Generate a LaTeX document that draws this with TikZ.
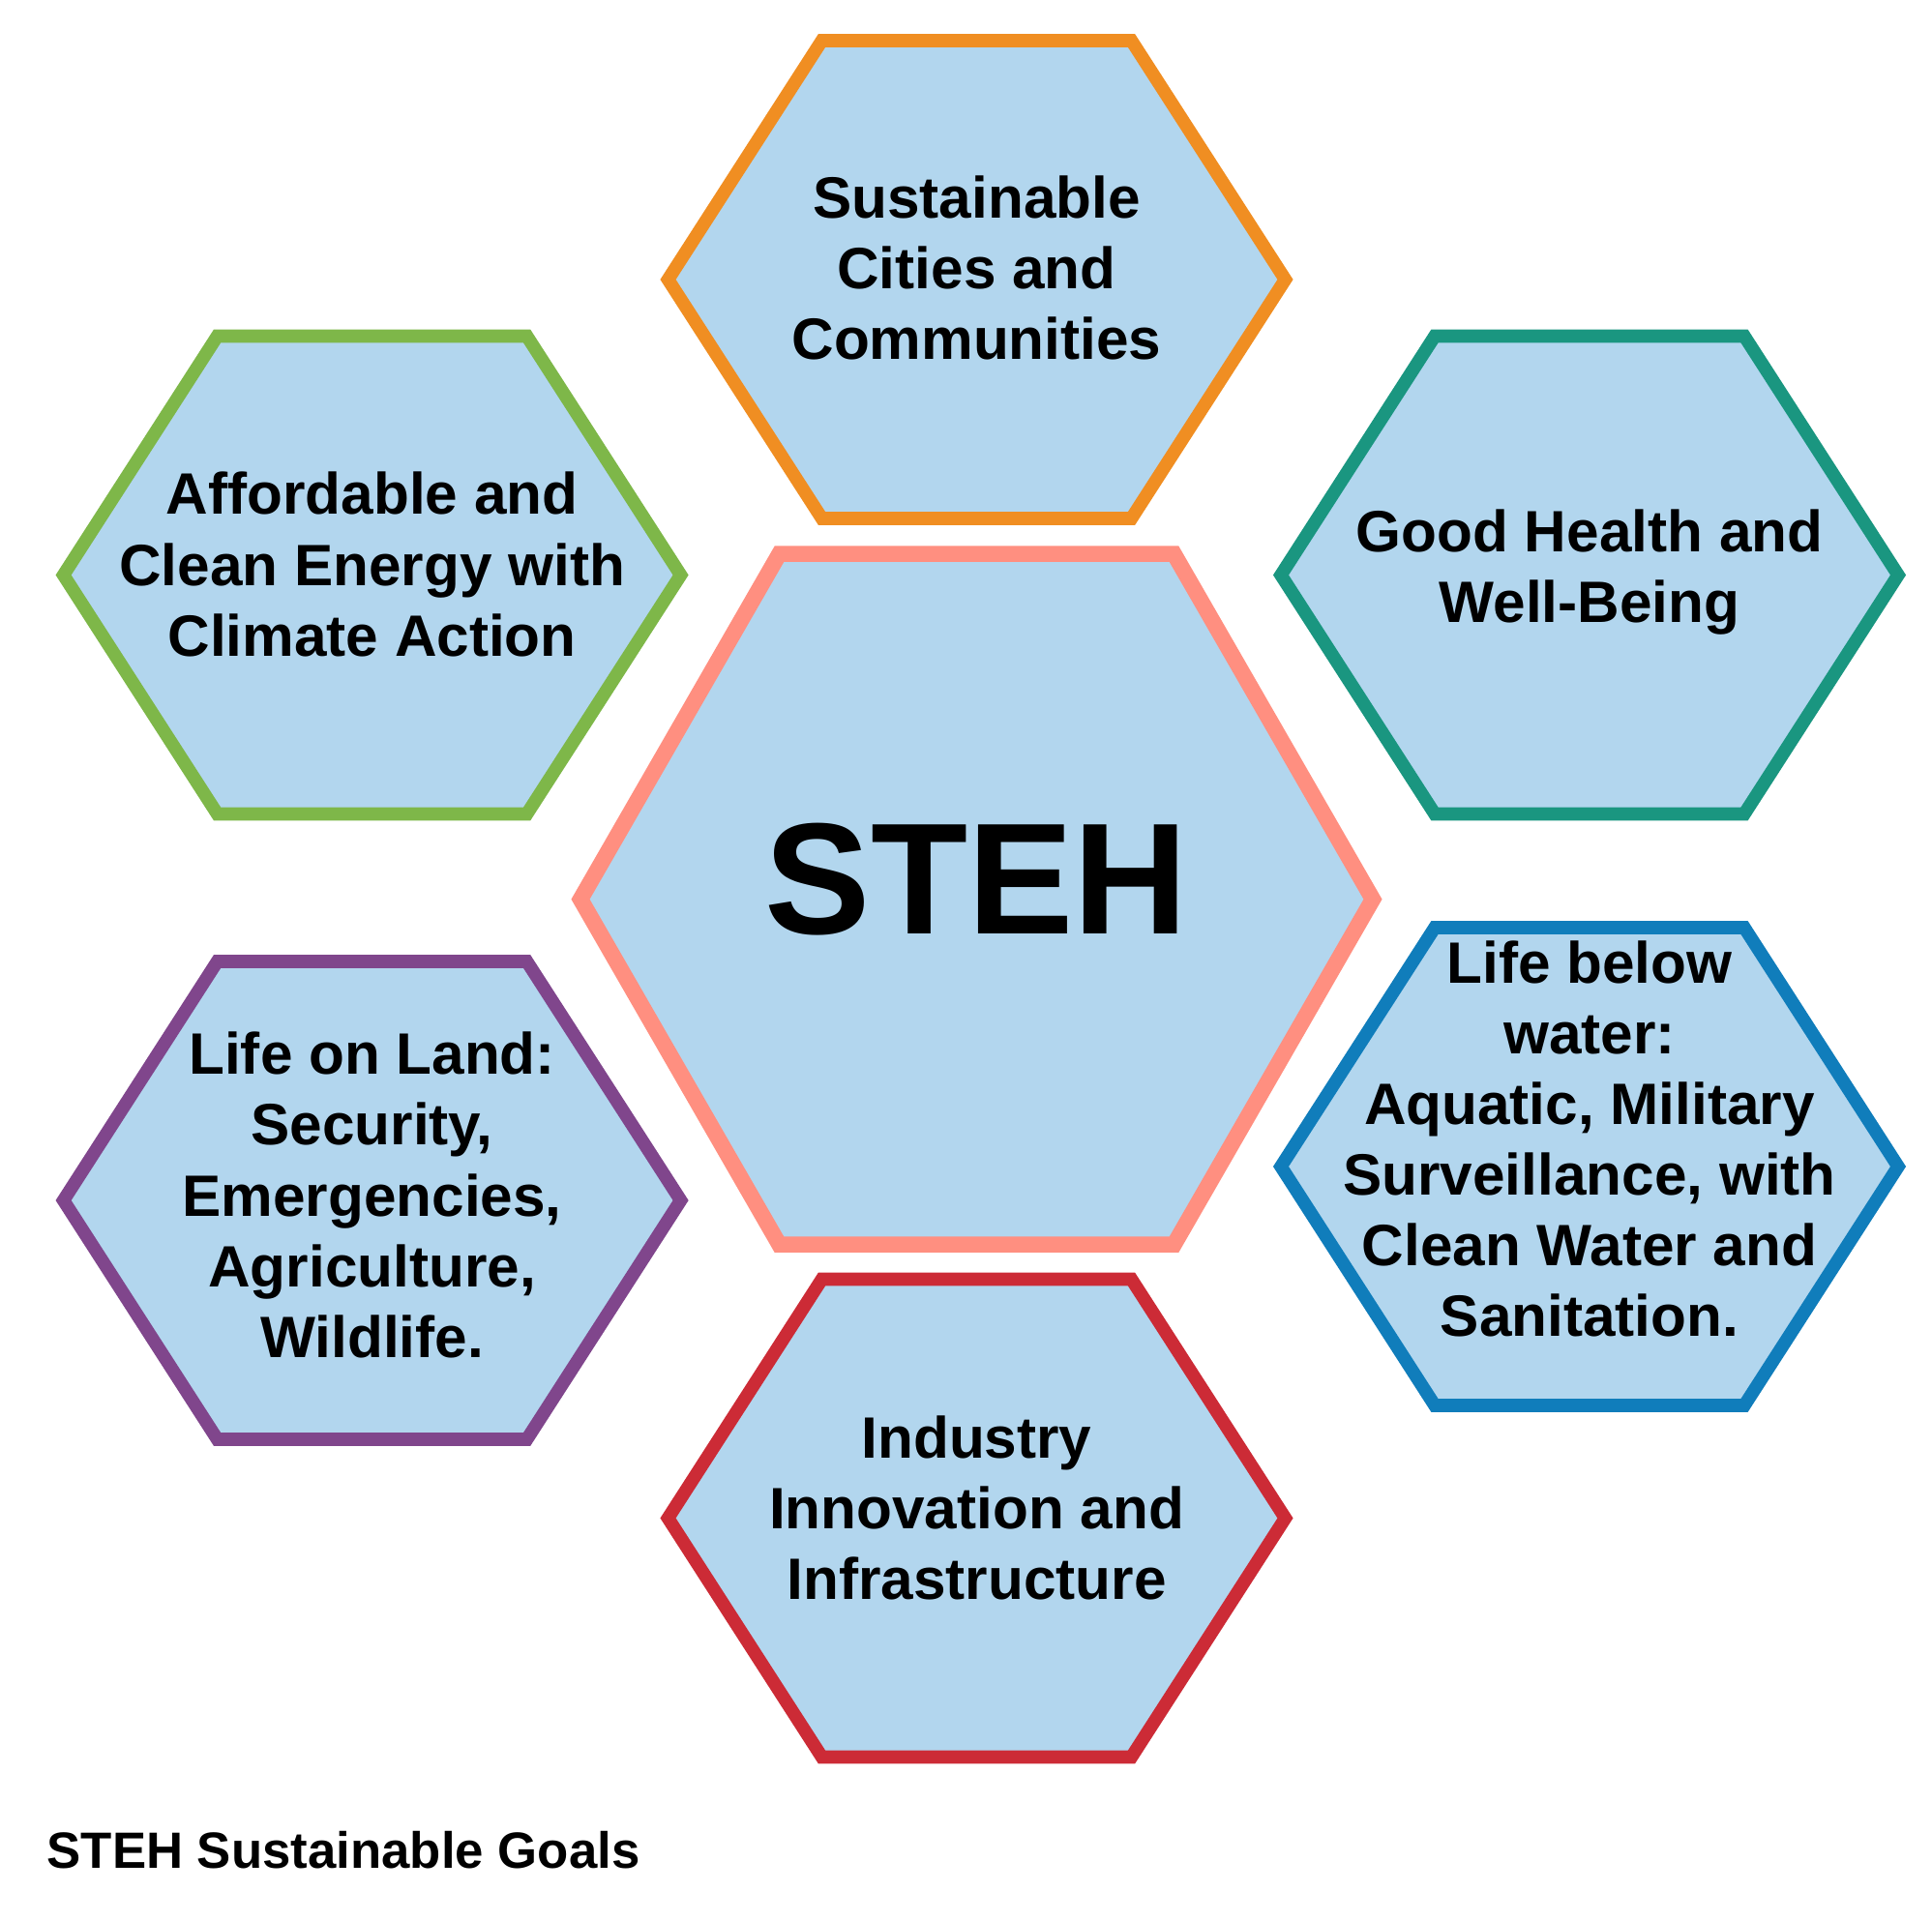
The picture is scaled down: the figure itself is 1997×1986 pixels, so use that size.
\documentclass[tikz,border=0pt]{standalone}
\usepackage{fontspec}
\setmainfont{Liberation Sans}
\usepackage{tikz}
\usetikzlibrary{positioning,calc}

\definecolor{hexfill}{RGB}{178,214,238}
\definecolor{orangeline}{RGB}{240,142,34}
\definecolor{greenline}{RGB}{126,183,73}
\definecolor{tealline}{RGB}{26,150,128}
\definecolor{salmonline}{RGB}{255,143,128}
\definecolor{purpleline}{RGB}{128,70,140}
\definecolor{blueline}{RGB}{16,125,187}
\definecolor{redline}{RGB}{204,43,54}

\tikzset{
  hexbox/.style={fill=hexfill,line width=3.85pt,line join=miter},
  goal/.style={font=\fontsize{17.15}{20.8}\selectfont\bfseries,align=center,anchor=base,inner sep=0pt},
}

\begin{document}
\begin{tikzpicture}[x=0.01cm,y=-0.01cm]
\useasboundingbox (0,0) rectangle (1997,1986);

% outer ring of goals
\foreach \cx/\cy/\col in {1009.5/289/orangeline, 384.6/594.5/greenline, 1643/594.5/tealline,
                          384.6/1241/purpleline, 1643/1206/blueline, 1009.5/1569.5/redline}
  \draw[hexbox,draw=\col] (\cx,\cy) +(-160,-247) -- +(160,-247) -- +(319,0) -- +(160,247) -- +(-160,247) -- +(-319,0) -- cycle;

% middle one
\draw[hexbox,draw=salmonline,line width=4.7pt] (1009.5,929.7) +(-204,-357) -- +(204,-357) -- +(409.5,0) -- +(204,357) -- +(-204,357) -- +(-409.5,0) -- cycle;

% base of a multi-line node = last line
\node[goal] (cities) at (1009.5,371.7) {Sustainable\\Cities and\\Communities};
\node[goal] (energy) at (384.6,678.3) {Affordable and\\Clean Energy with\\Climate Action};
\node[goal] (health) at (1643,643.3) {Good Health and\\Well-Being};
\node[goal] (land) at (384.6,1403.3) {Life on Land:\\Security,\\Emergencies,\\Agriculture,\\Wildlife.};
\node[goal] (water) at (1643,1381.8) {Life below\\water:\\Aquatic, Military\\Surveillance, with\\Clean Water and\\Sanitation.};
\node[goal] (industry) at (1009.5,1653.3) {Industry\\Innovation and\\Infrastructure};

\node[font=\fontsize{46.6}{50}\selectfont\bfseries,anchor=base,inner sep=0pt] (steh) at (1009.5,965.7) {STEH};

\node[font=\fontsize{15}{18}\selectfont\bfseries,anchor=base west,inner sep=0pt] (caption) at (48,1931) {STEH Sustainable Goals};
\end{tikzpicture}
\end{document}
